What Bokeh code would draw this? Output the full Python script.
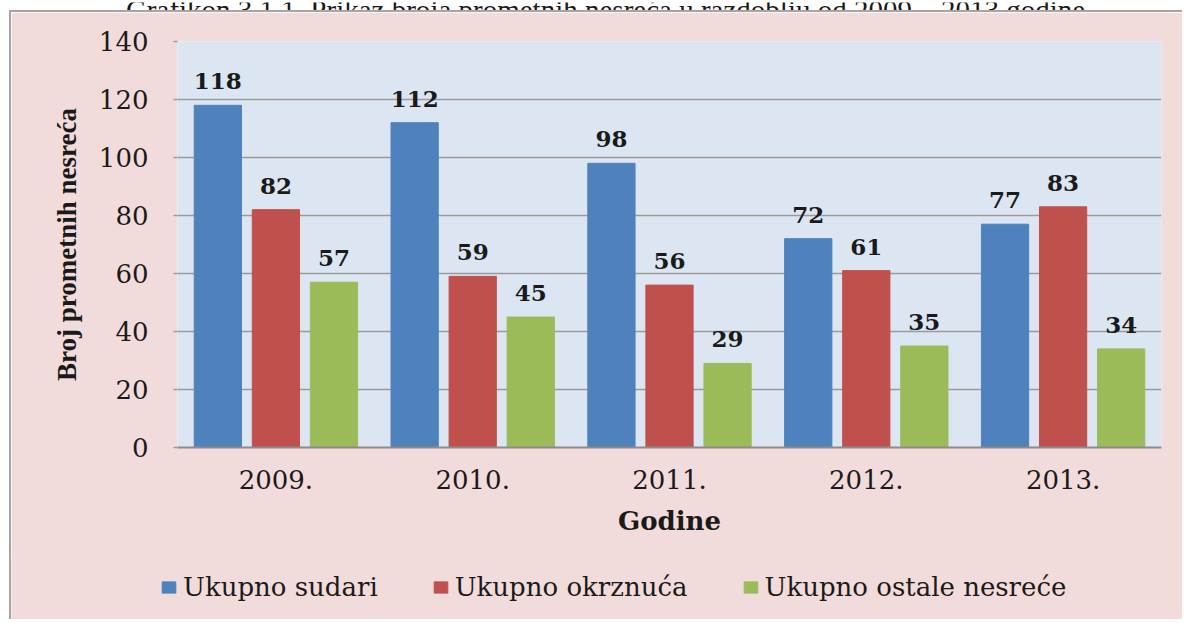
from bokeh.plotting import figure
from bokeh.layouts import column
from bokeh.models import (ColumnDataSource, FactorRange, Range1d, FixedTicker, Legend,
                          LegendItem, Label)
from bokeh.transform import dodge
from bokeh.core.properties import value
from bokeh.embed import file_html
from bokeh.resources import INLINE

# ---- data ----
years = ["2009.", "2010.", "2011.", "2012.", "2013."]
sudari = [118, 112, 98, 72, 77]
okrznuca = [82, 59, 56, 61, 83]
ostale = [57, 45, 29, 35, 34]
series_names = ["Ukupno sudari", "Ukupno okrznuća", "Ukupno ostale nesreće"]
y_ticks = [0, 20, 40, 60, 80, 100, 120, 140]
title_text = "Grafikon 3.1.1. Prikaz broja prometnih nesreća u razdoblju od 2009 – 2013 godine"
y_label = "Broj prometnih nesreća"
x_label = "Godine"

# ---- style ----
colors = ["#4F81BD", "#C0504D", "#9BBB59"]
offsets = [-0.295, 0.0, 0.295]
PINK = "#F2DCDB"
PLOT_BG = "#DCE6F2"
GRID = "#9A9A9A"
TXT = "#1A1A1A"
BORDER = "#A5A5A5"
box_css = {"margin-left": "9px", "border-left": f"2px solid {BORDER}"}

series = [sudari, okrznuca, ostale]
data = dict(year=years)
for i, s in enumerate(series):
    data[f"s{i}"] = s
    data[f"l{i}"] = [str(v) for v in s]
src = ColumnDataSource(data)

# ---- cut-off caption strip at the very top ----
pt = figure(width=1184, height=10, x_range=Range1d(0, 1184), y_range=Range1d(0, 10),
            x_axis_type=None, y_axis_type=None, output_backend="svg", toolbar_location=None,
            min_border=0, border_fill_color="white", background_fill_color="white",
            outline_line_color=None)
pt.xgrid.visible = False
pt.ygrid.visible = False
pt.add_layout(Label(x=605, y=3, text=title_text, text_align="center",
                    text_baseline="alphabetic", text_font="Liberation Serif",
                    text_font_size="29px", text_color=TXT))

# ---- main chart ----
p = figure(x_range=FactorRange(factors=years), y_range=Range1d(0, 140),
           width=1173, height=548, output_backend="svg", toolbar_location=None,
           min_border_left=166, min_border_right=23, min_border_top=29, min_border_bottom=113,
           border_fill_color=PINK, background_fill_color=PLOT_BG, outline_line_color=None)
p.styles = dict(box_css, **{"border-top": f"2px solid {BORDER}"})

for i in range(3):
    p.vbar(x=dodge("year", offsets[i], range=p.x_range), top=f"s{i}", width=0.24,
           source=src, fill_color=colors[i], line_color=colors[i], line_width=1)
    p.text(x=dodge("year", offsets[i], range=p.x_range), y=f"s{i}", text=f"l{i}",
           source=src, text_align="center", text_baseline="alphabetic", y_offset=-24,
           text_font=value("DejaVu Serif"), text_font_style="bold", text_font_size="23px",
           text_color=TXT)

ticker = FixedTicker(ticks=y_ticks)
p.yaxis.ticker = ticker
p.ygrid.ticker = ticker
p.xgrid.grid_line_color = None
p.ygrid.grid_line_color = GRID
p.ygrid.grid_line_width = 1.5

ya = p.yaxis[0]
ya.axis_line_color = None
ya.major_tick_out = 4
ya.major_tick_in = 0
ya.major_tick_line_color = GRID
ya.major_tick_line_width = 1.5
ya.minor_tick_line_color = None
ya.major_label_standoff = 25
ya.major_label_text_font = "DejaVu Serif"
ya.major_label_text_font_size = "26px"
ya.major_label_text_color = TXT
ya.axis_label = y_label
ya.axis_label_text_font = "Liberation Serif"
ya.axis_label_text_font_style = "bold"
ya.axis_label_text_font_size = "27px"
ya.axis_label_text_color = TXT
ya.axis_label_standoff = 14

xa = p.xaxis[0]
xa.axis_line_color = "#8C8C8C"
xa.axis_line_width = 2
xa.major_tick_line_color = None
xa.minor_tick_line_color = None
xa.major_tick_out = 0
xa.major_tick_in = 0
xa.major_label_standoff = 22
xa.major_label_text_font = "DejaVu Serif"
xa.major_label_text_font_size = "26px"
xa.major_label_text_color = TXT
xa.axis_label = x_label
xa.axis_label_text_font = "DejaVu Serif"
xa.axis_label_text_font_style = "bold"
xa.axis_label_text_font_size = "26px"
xa.axis_label_text_color = TXT
xa.axis_label_standoff = 14

# ---- legend strip (part of the same pink chart box) ----
pl = figure(width=1173, height=62, x_range=Range1d(0, 1), y_range=Range1d(0, 1),
            x_axis_type=None, y_axis_type=None, output_backend="svg", toolbar_location=None,
            min_border=0, border_fill_color=PINK, background_fill_color=PINK,
            outline_line_color=None)
pl.xgrid.visible = False
pl.ygrid.visible = False
pl.styles = dict(box_css, **{"margin-top": "-1px"})
# invisible proxies (outside the visible range) that only supply the legend swatches
proxy = ColumnDataSource(dict(x=[-5.0], top=[0.0]))
leg_r = [pl.vbar(x="x", top="top", width=0.1, source=proxy,
                 fill_color=colors[i], line_color=colors[i]) for i in range(3)]
legend = Legend(items=[LegendItem(label=series_names[i], renderers=[leg_r[i]]) for i in range(3)],
                location=(149, 17), orientation="horizontal",
                glyph_width=17, glyph_height=14, label_standoff=6, spacing=54,
                padding=0, margin=0, border_line_color=None, background_fill_alpha=0,
                label_text_font="DejaVu Serif", label_text_font_size="26px",
                label_text_color=TXT)
pl.add_layout(legend)

for f in (pt, p, pl):
    try:
        f.frame_align = False
    except AttributeError:
        pass

layout = column(pt, p, pl, spacing=0)
open("out.html", "w").write(file_html(layout, INLINE))
